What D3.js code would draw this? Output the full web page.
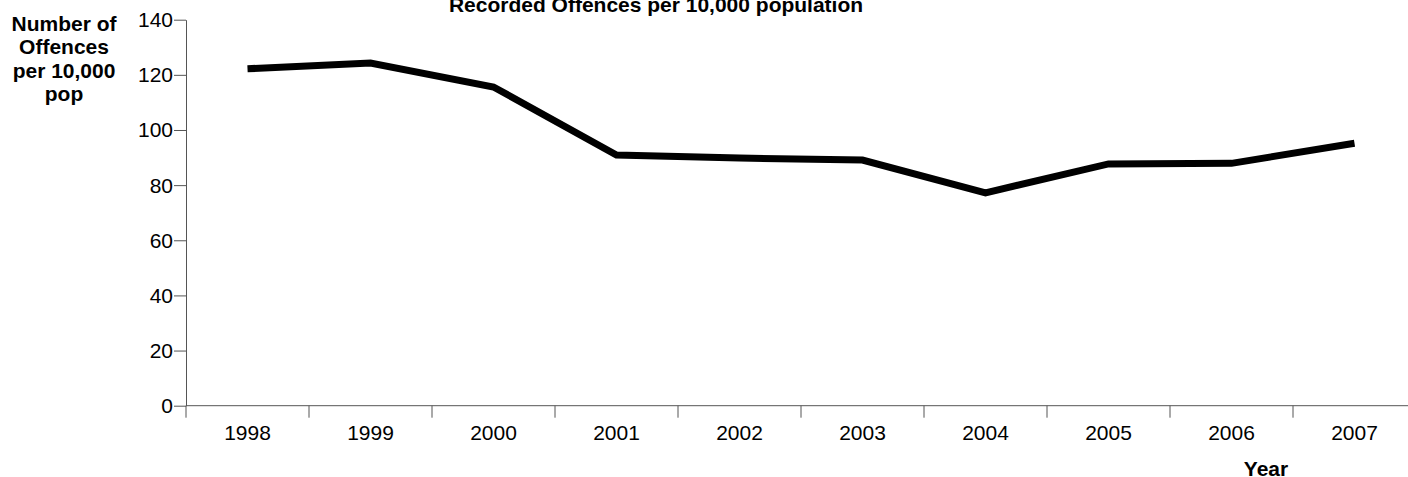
<!DOCTYPE html>
<html><head><meta charset="utf-8">
<script src="https://cdn.jsdelivr.net/npm/d3@7"></script>
<style>
html,body{margin:0;padding:0;background:#fff;}
svg{display:block;font-family:"Liberation Sans",Arial,sans-serif;}
</style></head>
<body><svg id="c" width="1408" height="477"></svg>
<script>
const years = ["1998","1999","2000","2001","2002","2003","2004","2005","2006","2007"];
const offences = [122.2, 124.3, 115.6, 90.9, 89.8, 89.1, 77.2, 87.7, 87.9, 95.2];
const yTicks = [0, 20, 40, 60, 80, 100, 120, 140];
const titleText = "Recorded Offences per 10,000 population";
const yTitleLines = ["Number of", "Offences", "per 10,000", "pop"];
const xTitleText = "Year";

const svg = d3.select("#c");
const SX = 1.05;
const axisColor = "#555";

const x = d3.scaleBand().domain(years).range([186, 1416]).padding(0);
const y = d3.scaleLinear().domain([0, 140]).range([405.7, 19.7]);

// helper for horizontally stretched text
function stext(g, tx, ty, str, size, weight, anchor) {
  return g.append("text")
    .attr("transform", `translate(${tx},${ty}) scale(${SX},1)`)
    .attr("text-anchor", anchor || "middle")
    .attr("font-size", size)
    .attr("font-weight", weight || "normal")
    .attr("fill", "#000")
    .text(str);
}

// Y axis
const yAxis = svg.append("g").attr("transform", "translate(186,0)")
  .call(d3.axisLeft(y).tickValues(yTicks).tickSize(12).tickSizeOuter(0).tickPadding(1));
yAxis.selectAll("path, line").attr("stroke", axisColor).attr("stroke-width", 1);
yAxis.selectAll("text").remove();
yAxis.selectAll(".tick").each(function(d) {
  stext(d3.select(this), -13, 7, String(d), 20, "normal", "end");
});

// X axis line and boundary ticks
const xg = svg.append("g");
xg.append("line").attr("x1", x.range()[0]).attr("x2", x.range()[1])
  .attr("y1", y(0)).attr("y2", y(0)).attr("stroke", axisColor);
const bounds = years.map(d => x(d)).concat([x(years[years.length-1]) + x.bandwidth()]);
xg.selectAll("line.tk").data(bounds).enter().append("line").attr("class","tk")
  .attr("x1", d => d).attr("x2", d => d)
  .attr("y1", y(0)).attr("y2", y(0) + 12).attr("stroke", axisColor);
years.forEach(yr => {
  stext(xg, x(yr) + x.bandwidth()/2, 440, yr, 20, "normal", "middle");
});

// line
const line = d3.line()
  .x((d, i) => x(years[i]) + x.bandwidth()/2)
  .y(d => y(d));
svg.append("path").datum(offences)
  .attr("d", line)
  .attr("fill", "none")
  .attr("stroke", "#000")
  .attr("stroke-width", 7)
  .attr("stroke-linejoin", "miter")
  .attr("stroke-linecap", "butt");

// titles
stext(svg, 656, 12, titleText, 20, "bold", "middle");
const yBase = [31, 54.3, 77.6, 100.9];
yTitleLines.forEach((t, i) => stext(svg, 64, yBase[i], t, 20, "bold", "middle"));
stext(svg, 1266, 476, xTitleText, 20, "bold", "middle");
</script>
</body></html>
